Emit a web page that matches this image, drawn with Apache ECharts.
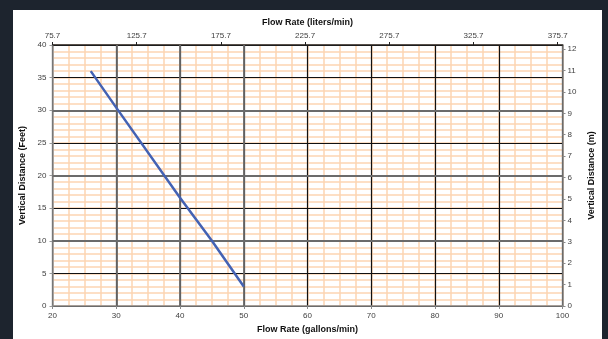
<!DOCTYPE html>
<html>
<head>
<meta charset="utf-8">
<script src="https://cdn.jsdelivr.net/npm/echarts@6/dist/echarts.min.js"></script>
<style>
html,body{margin:0;padding:0;width:608px;height:339px;overflow:hidden;background:#1d242e;}
#paper{position:absolute;left:13px;top:10px;width:589px;height:329px;background:#ffffff;}
#chart{position:absolute;left:0;top:0;width:608px;height:339px;}
</style>
</head>
<body>
<div id="paper"></div>
<div id="chart"></div>
<script>
// Data
const flowGpm = [26, 30, 40, 45, 50];
const distanceFt = [36, 30.4, 16.6, 10, 3];

// Axis ranges / tick labels
const gpmMin = 20, gpmMax = 100, gpmStep = 10;
const lpmPerGpm = 3.78541;
const lpmStep = 50;
const lpmTickLabels = ['75.7', '125.7', '175.7', '225.7', '275.7', '325.7', '375.7'];
const ftMin = 0, ftMax = 40, ftStep = 5;
const mPerFt = 0.3048;
const mStep = 1;
const grayVerticalGpm = [30, 40, 50];
const grayHorizontalFt = [10, 20, 30];

const lpmSpan = (gpmMax - gpmMin) * lpmPerGpm; // offset range of top axis
const mMax = ftMax * mPerFt;

const FONT = 'Liberation Sans';
const labelStyle = {fontFamily: FONT, fontSize: 8, color: '#404040'};
const nameStyle = {fontFamily: FONT, fontSize: 9, fontWeight: 'bold', color: '#111'};
const ORANGE = '#fdd5b2';

const chart = echarts.init(document.getElementById('chart'), null, {renderer: 'canvas'});
const hidden = {axisLine: {show: false, onZero: false}, axisTick: {show: false}, axisLabel: {show: false}};

chart.setOption({
  animation: false,
  backgroundColor: 'transparent',
  grid: {left: 52.5, right: 45.5, top: 45, bottom: 29.5, containLabel: false},
  xAxis: [
    { // bottom: gallons/min
      type: 'value', position: 'bottom', min: gpmMin, max: gpmMax, interval: gpmStep, z: 2,
      name: 'Flow Rate (gallons/min)', nameLocation: 'middle', nameGap: 19, nameTextStyle: nameStyle,
      axisLine: {show: true, onZero: false, lineStyle: {color: '#8a8a8a', width: 1.5}},
      axisTick: {show: true, length: 3, lineStyle: {color: '#8a8a8a'}},
      axisLabel: Object.assign({margin: 6}, labelStyle),
      splitLine: {show: true, lineStyle: {color: '#111', width: 1.2}}
    },
    { // top: liters/min (offset from 75.7)
      type: 'value', position: 'top', min: 0, max: lpmSpan, interval: lpmStep, z: 2,
      name: 'Flow Rate (liters/min)', nameLocation: 'middle', nameGap: 18, nameTextStyle: nameStyle,
      axisLine: {show: true, onZero: false, lineStyle: {color: '#222', width: 1.5}},
      axisTick: {show: true, length: 3, lineStyle: {color: '#222'}},
      axisLabel: Object.assign({margin: 5, showMaxLabel: false,
        formatter: function (v) { const i = Math.round(v / lpmStep); return lpmTickLabels[i] || ''; }}, labelStyle),
      splitLine: {show: false}
    },
    Object.assign({ // minor vertical grid
      type: 'value', position: 'bottom', min: gpmMin, max: gpmMax, interval: 2.5, z: 0,
      splitLine: {show: true, lineStyle: {color: ORANGE, width: 1.5}}
    }, hidden)
  ],
  yAxis: [
    { // left: feet
      type: 'value', position: 'left', min: ftMin, max: ftMax, interval: ftStep, z: 2,
      name: 'Vertical Distance (Feet)', nameLocation: 'middle', nameGap: 20, nameTextStyle: nameStyle,
      axisLine: {show: true, onZero: false, lineStyle: {color: '#9a9a9a', width: 1.5}},
      axisTick: {show: true, length: 3, lineStyle: {color: '#9a9a9a'}},
      axisLabel: Object.assign({margin: 6}, labelStyle),
      splitLine: {show: true, lineStyle: {color: '#111', width: 1.2}}
    },
    { // right: meters
      type: 'value', position: 'right', min: 0, max: mMax, interval: mStep, z: 2,
      name: 'Vertical Distance (m)', nameLocation: 'middle', nameGap: 24, nameRotate: 90, nameTextStyle: nameStyle,
      axisLine: {show: true, onZero: false, lineStyle: {color: '#8a8a8a', width: 1.5}},
      axisTick: {show: true, length: 3, lineStyle: {color: '#8a8a8a'}},
      axisLabel: Object.assign({margin: 5, showMaxLabel: false}, labelStyle),
      splitLine: {show: false}
    },
    Object.assign({ // minor horizontal grid
      type: 'value', position: 'left', min: ftMin, max: ftMax, interval: 1, z: 0,
      splitLine: {show: true, lineStyle: {color: ORANGE, width: 1.5}}
    }, hidden)
  ],
  series: [{
    type: 'line', xAxisIndex: 0, yAxisIndex: 0, z: 5,
    data: flowGpm.map((x, i) => [x, distanceFt[i]]),
    symbol: 'none', smooth: false,
    lineStyle: {color: '#4462b3', width: 2.5},
    markLine: {
      silent: true, symbol: 'none', label: {show: false}, z: 3,
      lineStyle: {color: '#6b6b6b', width: 1.8, type: 'solid'},
      data: grayVerticalGpm.map(v => ({xAxis: v})).concat(grayHorizontalFt.map(v => ({yAxis: v})))
    }
  }]
});
</script>
</body>
</html>
